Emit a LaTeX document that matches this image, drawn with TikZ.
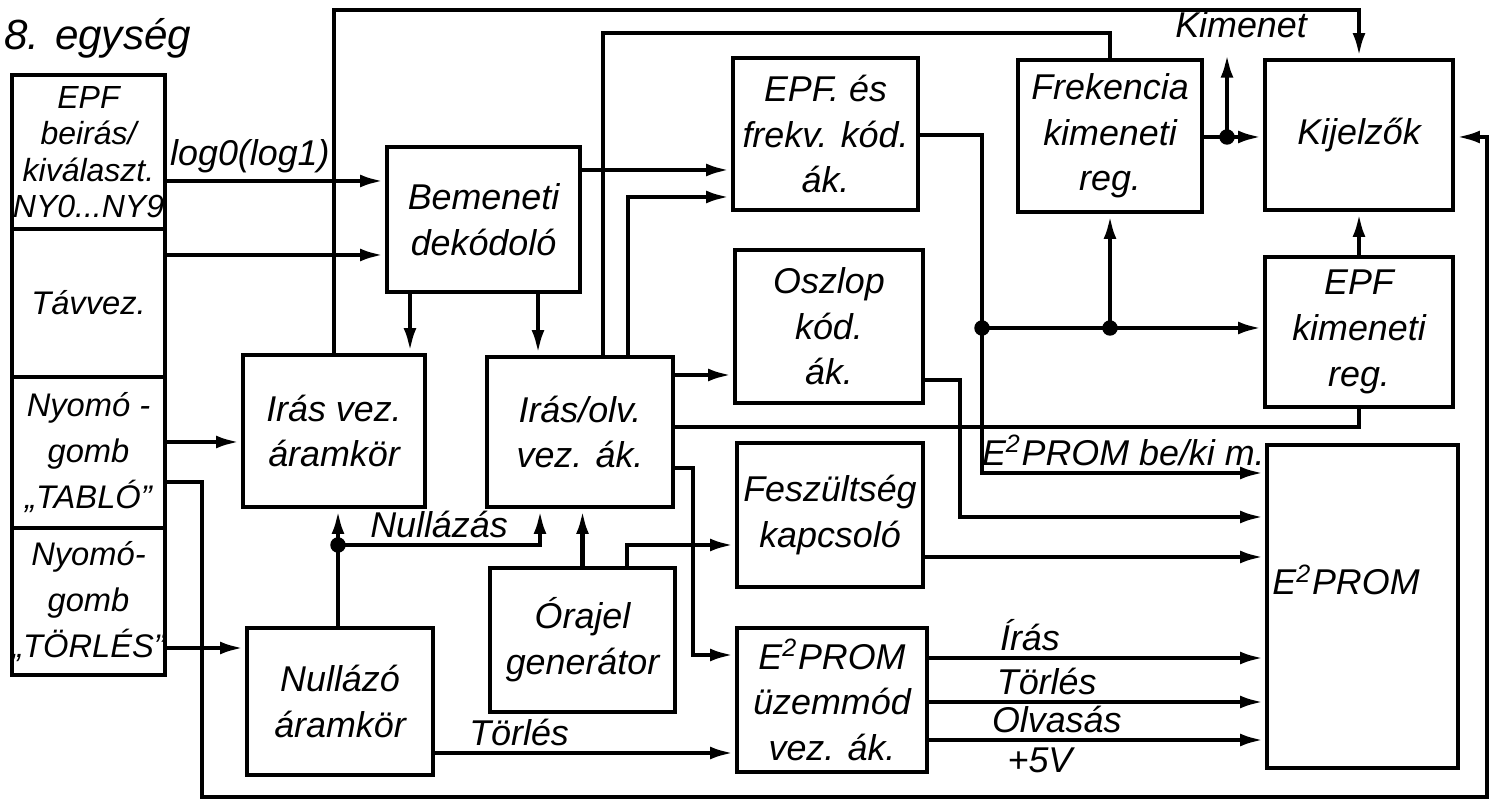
\documentclass[tikz,border=0pt]{standalone}
\usepackage{fontspec}
\setmainfont{Liberation Sans}
\usetikzlibrary{arrows.meta}
\newcommand{\blkfont}{\fontsize{10.2}{13}\selectfont\itshape}
\newcommand{\colfont}{\fontsize{9.3}{13}\selectfont\itshape}

\begin{document}
\begin{tikzpicture}[x=0.1mm,y=-0.1mm,line width=1.3pt,
  blk/.style={draw,align=center,inner sep=0pt,font=\blkfont},
  col/.style={blk,minimum width=15.3mm,font=\colfont},
  lbl/.style={inner sep=1.5pt,font=\blkfont},
  arr/.style={-{Latex[length=7pt,width=3.6pt]}}]
  \useasboundingbox (0,0) rectangle (1492,800);
  \node[lbl,anchor=base west,inner sep=0pt,font=\fontsize{12}{14}\selectfont\itshape] (ttl) at (2,50) {8. egység};
  % input column
  \node[col,minimum height=15.4mm,font=\fontsize{9.1}{10.4}\selectfont\itshape] (sel) at (88.5,152) {EPF\\beirás/\\kiválaszt.\\NY0...NY9};
  \node[col,minimum height=14.8mm] (tav) at (88.5,303) {Távvez.};
  \node[col,minimum height=15.1mm] (tab) at (88.5,452.5) {Nyomó -\\gomb\\„TABLÓ”};
  \node[col,minimum height=14.7mm] (tor) at (88.5,601.5) {Nyomó-\\gomb\\„TÖRLÉS”};
  % blocks
  \node[blk,minimum width=19.3mm,minimum height=14.5mm] (bem) at (483.5,219.5) {Bemeneti\\dekódoló};
  \node[blk,minimum width=18.2mm,minimum height=15.2mm] (irv) at (334,431) {Irás vez.\\áramkör};
  \node[blk,minimum width=18.6mm,minimum height=15mm] (iro) at (580,432) {Irás/olv.\\vez. ák.};
  \node[blk,minimum width=18.6mm,minimum height=14.7mm] (nul) at (340,701.5) {Nullázó\\áramkör};
  \node[blk,minimum width=18.5mm,minimum height=14.4mm] (ora) at (582.5,640) {Órajel\\generátor};
  \node[blk,minimum width=18.5mm,minimum height=15.2mm] (epf) at (825.5,134) {EPF. és\\frekv. kód.\\ák.};
  \node[blk,minimum width=18.8mm,minimum height=15.3mm] (osz) at (829,326.5) {Oszlop\\kód.\\ák.};
  \node[blk,minimum width=18.6mm,minimum height=14.4mm] (fes) at (830,515) {Feszültség\\kapcsoló};
  \node[blk,minimum width=19mm,minimum height=14.4mm] (uzm) at (832,700) {E\textsuperscript{2}PROM\\üzemmód\\vez. ák.};
  \node[blk,minimum width=18.4mm,minimum height=15.2mm] (frk) at (1110,136) {Frekencia\\kimeneti\\reg.};
  \node[blk,minimum width=18.8mm,minimum height=15mm] (kij) at (1359,135) {Kijelzők};
  \node[blk,minimum width=18.8mm,minimum height=15mm] (epk) at (1359,332) {EPF\\kimeneti\\reg.};
  \node[blk,minimum width=19.1mm,minimum height=32.3mm] (rom) at (1362.5,606.5) {};
  \node[lbl] (romt) at (1346,580) {E\textsuperscript{2}PROM};
  % junctions
  \coordinate (j1) at (982,328);
  \coordinate (j2) at (1110,328);
  \coordinate (j3) at (338,545);
  \coordinate (j4) at (1227,137);
  \coordinate (kout) at (1227,53);
  % inputs
  \draw[arr] (sel.east |- 0,181) -- node[lbl,above,pos=0.38] (loglab) {log0(log1)} (bem.west |- 0,181);
  \draw[arr] (tav.east |- 0,255) -- (bem.west |- 0,255);
  \draw[arr] (tab.east |- 0,442) -- (irv.west |- 0,442);
  \draw[arr] (tor.east |- 0,648) -- (nul.west |- 0,648);
  \draw[arr] (tab.east |- 0,482) -| (202,797) -| (1487,137) -- (kij.east |- 0,137);
  % decoder and control
  \draw[arr] (bem.east |- 0,170) -- (epf.west |- 0,170);
  \draw[arr] (bem.south -| 410,0) -- (irv.north -| 410,0);
  \draw[arr] (bem.south -| 538,0) -- (iro.north -| 538,0);
  \draw[arr] (irv.north) |- (kij.north |- 0,10) -- (kij.north);
  \draw (iro.north -| 603,0) |- (frk.north |- 0,33) -- (frk.north);
  \draw[arr] (iro.north -| 628,0) |- (epf.west |- 0,197);
  \draw[arr] (iro.east |- 0,375) -- (osz.west |- 0,375);
  \draw (iro.east |- 0,427) -| (epk.south);
  \draw[arr] (iro.east |- 0,468) -| (693,655) -- (uzm.west |- 0,655);
  \draw[arr] (nul.north -| 338,0) -- (irv.south -| 338,0);
  \draw[arr] (j3) -- node[lbl,above] (nulab) {Nullázás} (540,545) -- (iro.south -| 540,0);
  \draw[arr] (nul.east |- 0,753) -- node[lbl,above,pos=0.28] (tlab) {Törlés} (uzm.west |- 0,753);
  \draw[arr] (ora.north) -- (ora.north |- iro.south);
  \draw[arr] (ora.north -| 627,0) |- (fes.west |- 0,545);
  % to E2PROM and registers
  \draw[arr] (epf.east |- 0,135) -| (982,473) -- node[lbl,above] (bklab) {E\textsuperscript{2}PROM be/ki m.} (rom.west |- 0,473);
  \draw[arr] (j1) -- (epk.west |- j1);
  \draw[arr] (j2) -- (frk.south);
  \draw[arr] (osz.east |- 0,380) -| (960,517) -- (rom.west |- 0,517);
  \draw[arr] (fes.east |- 0,557) -- (rom.west |- 0,557);
  \draw[arr] (uzm.east |- 0,658) -- node[lbl,above,pos=0.3] (wlab) {Írás} (rom.west |- 0,658);
  \draw[arr] (uzm.east |- 0,702) -- node[lbl,above,pos=0.35] (elab) {Törlés} (rom.west |- 0,702);
  \draw[arr] (uzm.east |- 0,740) -- node[lbl,above,pos=0.38] (rlab) {Olvasás}
    node[lbl,below,pos=0.33] (vlab) {+5V} (rom.west |- 0,740);
  % outputs
  \draw[arr] (frk.east |- 0,137) -- (kij.west |- 0,137);
  \draw[arr] (j4) -- (kout);
  \node[lbl] (kilab) at (1241,25) {Kimenet};
  \draw[arr] (epk.north) -- (kij.south);
  \foreach \j in {j1,j2,j3,j4} \fill (\j) circle (2.2pt);
\end{tikzpicture}
\end{document}
